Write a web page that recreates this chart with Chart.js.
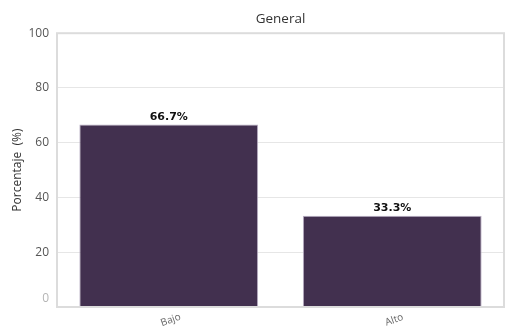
<!DOCTYPE html>
<html>
<head>
<meta charset="utf-8">
<script src="https://cdn.jsdelivr.net/npm/chart.js@4.4.1/dist/chart.umd.min.js"></script>
<style>
  html, body { margin: 0; padding: 0; background: #fff; }
  #wrap { width: 516px; height: 332px; }
</style>
</head>
<body>
<div id="wrap"><canvas id="generalChart"></canvas></div>
<script>
// Distribución general por nivel
const categories = ['Bajo', 'Alto'];
const percentages = [66.7, 33.3];
const yTicks = [0, 20, 40, 60, 80, 100];

const barColor = '#42304f';

// frame around the plot area
const frame = {
    id: 'frame',
    afterDraw(chart) {
        const { ctx, chartArea: a } = chart;
        ctx.save();
        ctx.strokeStyle = '#dcdcdc';
        ctx.lineWidth = 2;
        ctx.strokeRect(a.left, a.top, a.right - a.left, a.bottom - a.top);
        ctx.restore();
    }
};

// percentage labels over each bar
const barLabels = {
    id: 'barLabels',
    afterDatasetsDraw(chart) {
        const { ctx } = chart;
        const meta = chart.getDatasetMeta(0);
        ctx.save();
        ctx.font = 'bold 11px "DejaVu Sans"';
        ctx.fillStyle = '#111';
        ctx.textAlign = 'center';
        ctx.textBaseline = 'bottom';
        meta.data.forEach((bar, i) => {
            ctx.fillText(percentages[i].toFixed(1) + '%', bar.x, bar.y - 2);
        });
        ctx.restore();
    }
};

// category names, tilted and centred under each bar;
// the zero tick sits a little above the baseline in a paler grey
const axisText = {
    id: 'axisText',
    afterDraw(chart) {
        const { ctx, scales } = chart;
        const x = scales.x, y = scales.y;
        ctx.save();
        ctx.font = '10px "Open Sans"';
        ctx.fillStyle = '#666';
        ctx.textAlign = 'center';
        ctx.textBaseline = 'middle';
        categories.forEach((name, i) => {
            ctx.save();
            ctx.translate(x.getPixelForValue(i) + 2, x.top + 13);
            ctx.rotate(-20 * Math.PI / 180);
            ctx.fillText(name, 0, 0);
            ctx.restore();
        });
        ctx.font = '12px "Open Sans"';
        ctx.fillStyle = '#b5b5b5';
        ctx.textAlign = 'right';
        ctx.fillText(String(yTicks[0]), y.right - 8, y.getPixelForValue(yTicks[0]) - 8);
        ctx.restore();
    }
};

new Chart(document.getElementById('generalChart').getContext('2d'), {
    type: 'bar',
    data: {
        labels: categories,
        datasets: [{
            data: percentages,
            backgroundColor: barColor,
            borderColor: '#b9aec4',
            borderWidth: 1,
            barPercentage: 0.8,
            categoryPercentage: 1.0
        }]
    },
    options: {
        responsive: true,
        maintainAspectRatio: false,
        animation: false,
        layout: { padding: { top: 4, right: 12, bottom: 0, left: 4 } },
        plugins: {
            legend: { display: false },
            tooltip: { enabled: false },
            title: {
                display: true,
                fullSize: false,
                text: 'General',
                color: '#333',
                font: { family: '"Open Sans"', size: 13.5, weight: 'normal' },
                padding: { top: 7, bottom: 6 }
            }
        },
        scales: {
            x: {
                grid: { display: false },
                border: { display: false },
                afterFit: (axis) => { axis.height = 25; },
                ticks: { display: false }
            },
            y: {
                min: 0,
                max: 100,
                afterBuildTicks: (axis) => { axis.ticks = yTicks.map(v => ({ value: v })); },
                afterFit: (axis) => { axis.width = 53; },
                grid: { color: '#e6e6e6', lineWidth: 1, drawTicks: false },
                border: { display: false },
                ticks: {
                    padding: 8,
                    color: '#555',
                    font: { family: '"Open Sans"', size: 12 },
                    callback: (v) => v === 0 ? '' : v
                },
                title: {
                    display: true,
                    text: 'Porcentaje  (%)',
                    color: '#333',
                    font: { family: '"Open Sans"', size: 12 },
                    padding: { top: 6, bottom: 4 }
                }
            }
        }
    },
    plugins: [frame, barLabels, axisText]
});
</script>
</body>
</html>
